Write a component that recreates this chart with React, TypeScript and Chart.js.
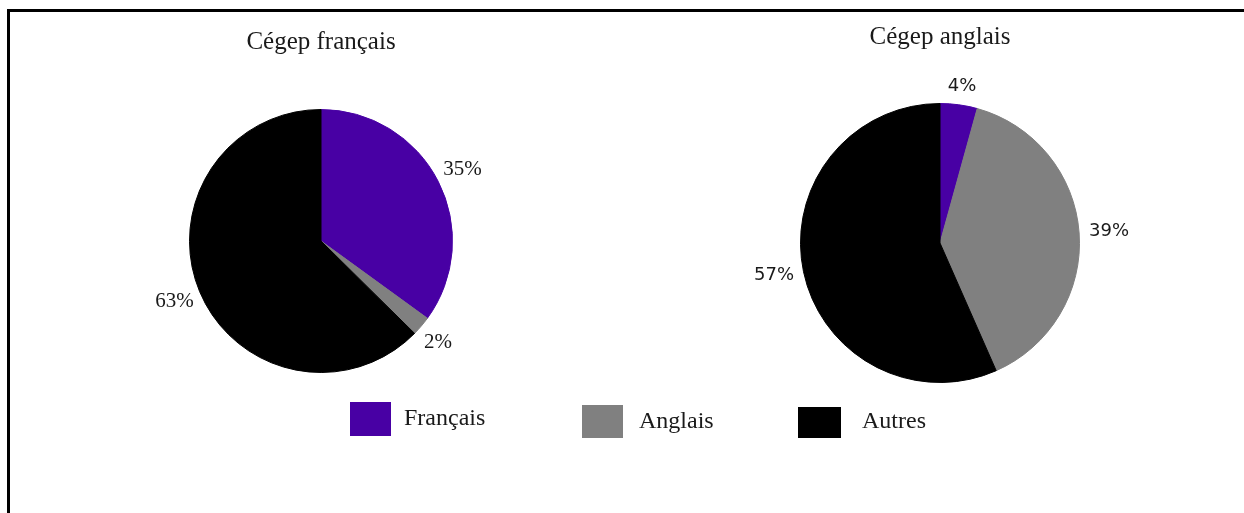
import React, { useEffect, useRef } from "react";
import { Chart, registerables } from "chart.js";

Chart.register(...registerables);

// ---- data ----
const categories = ["Français", "Anglais", "Autres"];
const colors = ["#4800A4", "#808080", "#000000"];
const titleFr = "Cégep français";
const titleEn = "Cégep anglais";
const valuesFr = [35.0, 2.4, 62.6];
const valuesEn = [4.3, 39.1, 56.6];

const pct = (v: number) => Math.round(v) + "%";

type LabelOpts = { font: string; color: string; gap: number; vOff: number };

const makeLabelPlugin = (opts: LabelOpts) => ({
  id: "outLabels",
  afterDatasetsDraw(chart: any) {
    const ctx = chart.ctx as CanvasRenderingContext2D;
    const meta = chart.getDatasetMeta(0);
    const data = chart.data.datasets[0].data as number[];
    ctx.save();
    ctx.font = opts.font;
    ctx.fillStyle = opts.color;
    ctx.textAlign = "center";
    ctx.textBaseline = "middle";
    meta.data.forEach((arc: any, i: number) => {
      const p = arc.getProps(["x", "y", "startAngle", "endAngle", "outerRadius"], true);
      const mid = (p.startAngle + p.endAngle) / 2;
      const r = p.outerRadius + opts.gap;
      const txt = pct(data[i]);
      const w = ctx.measureText(txt).width;
      const cx = p.x + Math.cos(mid) * r + Math.cos(mid) * (w / 2);
      const cy = p.y + Math.sin(mid) * r + Math.sin(mid) * opts.vOff;
      ctx.fillText(txt, cx, cy);
    });
    ctx.restore();
  },
});

type PieProps = {
  values: number[];
  title: string;
  left: number;
  top: number;
  width: number;
  height: number;
  padding: { top: number; bottom: number; left: number; right: number };
  titlePadBottom: number;
  label: LabelOpts;
};

function Pie(props: PieProps) {
  const ref = useRef<HTMLCanvasElement | null>(null);
  useEffect(() => {
    if (!ref.current) return;
    const chart = new Chart(ref.current, {
      type: "pie",
      data: {
        labels: categories,
        datasets: [
          {
            data: props.values,
            backgroundColor: colors,
            borderColor: colors,
            borderWidth: 1,
          },
        ],
      },
      options: {
        responsive: false,
        animation: false,
        devicePixelRatio: 1,
        layout: { padding: props.padding },
        plugins: {
          legend: { display: false },
          tooltip: { enabled: false },
          title: {
            display: true,
            text: props.title,
            color: "#1a1a1a",
            font: { family: '"Liberation Serif", serif', size: 25, weight: "normal", lineHeight: 1.2 },
            padding: { top: 0, bottom: props.titlePadBottom },
          },
        },
      },
      plugins: [makeLabelPlugin(props.label)],
    } as any);
    return () => chart.destroy();
  }, []);
  return (
    <canvas
      ref={ref}
      width={props.width}
      height={props.height}
      style={{ position: "absolute", left: props.left, top: props.top, width: props.width, height: props.height }}
    />
  );
}

// legend layout (page coordinates)
const legendLayout = [
  { sx: 350, sy: 402, sw: 41, sh: 34, tx: 404, base: 425 },
  { sx: 582, sy: 405, sw: 41, sh: 33, tx: 639, base: 428 },
  { sx: 798, sy: 407, sw: 43, sh: 31, tx: 862, base: 428 },
];

const OX = 10;
const OY = 12;

export default function App() {
  return (
    <div
      style={{
        position: "fixed",
        left: 7,
        top: 9,
        width: 1237,
        height: 504,
        boxSizing: "border-box",
        borderTop: "3px solid #000",
        borderLeft: "3px solid #000",
        background: "#fff",
        overflow: "hidden",
      }}
    >
      <Pie
        values={valuesFr}
        title={titleFr}
        left={151 - OX}
        top={12 - OY}
        width={340}
        height={392}
        padding={{ top: 15, bottom: 31, left: 0, right: 0 }}
        titlePadBottom={52}
        label={{ font: '21px "Liberation Serif", serif', color: "#1a1a1a", gap: 8, vOff: 18 }}
      />
      <Pie
        values={valuesEn}
        title={titleEn}
        left={740 - OX}
        top={12 - OY}
        width={400}
        height={392}
        padding={{ top: 10, bottom: 21, left: 0, right: 0 }}
        titlePadBottom={51}
        label={{ font: '18px "DejaVu Sans", sans-serif', color: "#1a1a1a", gap: 10, vOff: 9 }}
      />
      {categories.map((c, i) => {
        const L = legendLayout[i];
        return (
          <React.Fragment key={c}>
            <div
              style={{
                position: "absolute",
                left: L.sx - OX,
                top: L.sy - OY,
                width: L.sw,
                height: L.sh,
                background: colors[i],
              }}
            />
            <div
              style={{
                position: "absolute",
                left: L.tx - OX,
                top: L.base - OY - 20,
                fontFamily: '"Liberation Serif", serif',
                fontSize: 24,
                lineHeight: "24px",
                color: "#1a1a1a",
                whiteSpace: "nowrap",
              }}
            >
              {c}
            </div>
          </React.Fragment>
        );
      })}
    </div>
  );
}
